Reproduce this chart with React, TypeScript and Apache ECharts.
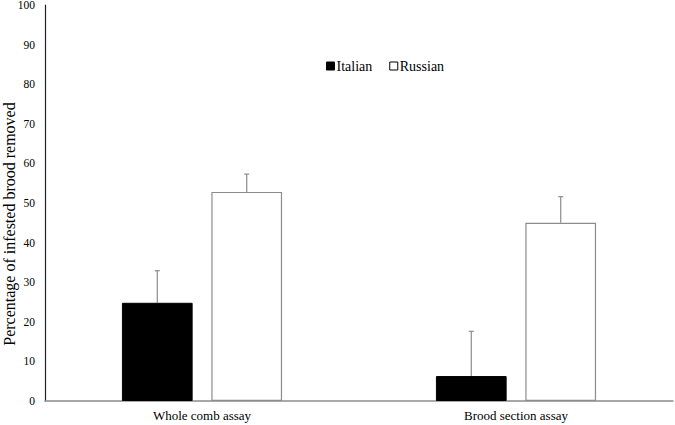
import React, { useEffect, useRef } from "react";
import * as echarts from "echarts";

const categories = ["Whole comb assay", "Brood section assay"];
const italianValues = [24.8, 6.3];
const italianErrTop = [32.9, 17.6];
const russianValues = [52.8, 45.0];
const russianErrTop = [57.3, 51.6];
const yAxisTitle = "Percentage of infested brood removed";

const CAT_GAP = 0.49;
const BAR_GAP = 0.265;
const FONT = "'Liberation Serif', 'Times New Roman', serif";

function errorSeries(name: string, idx: number, values: number[], tops: number[]) {
  const data = values.map((v, i) => [i, v, tops[i]]);
  return {
    type: "custom",
    name: name + " error",
    silent: true,
    z: 1,
    data,
    encode: { x: 0, y: [1, 2] },
    renderItem: (params: any, api: any) => {
      const c = api.value(0);
      const base = api.coord([c, api.value(1)]);
      const top = api.coord([c, api.value(2)]);
      const band = api.size([1, 0])[0];
      const usable = band * (1 - CAT_GAP);
      const bw = usable / (2 + BAR_GAP);
      const off = (bw + bw * BAR_GAP) / 2;
      const x = base[0] + (idx === 0 ? -off : off);
      const style = { stroke: "#8c8c8c", lineWidth: 1.2 };
      return {
        type: "group",
        children: [
          { type: "line", shape: { x1: x, y1: base[1], x2: x, y2: top[1] }, style },
          { type: "line", shape: { x1: x - 2.5, y1: top[1], x2: x + 2.5, y2: top[1] }, style },
        ],
      };
    },
  };
}

export default function App() {
  const ref = useRef<HTMLDivElement>(null);
  useEffect(() => {
    if (!ref.current) return;
    const chart = echarts.init(ref.current, null, { renderer: "svg" });
    chart.setOption({
      animation: false,
      backgroundColor: "#fff",
      textStyle: { fontFamily: FONT },
      grid: { left: 45, right: 2, top: 5, bottom: 24, containLabel: false, outerBoundsMode: "none" },
      graphic: [
        {
          type: "text",
          x: 9.5,
          y: 224,
          rotation: Math.PI / 2,
          style: {
            text: yAxisTitle,
            fontFamily: FONT,
            fontSize: 16,
            fill: "#000",
            align: "center",
            verticalAlign: "middle",
          },
        },
      ],
      legend: {
        left: 321,
        top: 54,
        icon: "rect",
        itemWidth: 8,
        itemHeight: 8,
        itemGap: 17,
        textStyle: { fontFamily: FONT, fontSize: 14, color: "#000", padding: [0, 0, 0, -3] },
        data: [
          { name: "Italian", itemStyle: { color: "#000", borderColor: "#000", borderWidth: 1 } },
          { name: "Russian", itemStyle: { color: "#fff", borderColor: "#000", borderWidth: 1 } },
        ],
      },
      xAxis: {
        type: "category",
        data: categories,
        axisLine: { lineStyle: { color: "#8c8c8c", width: 1.5 } },
        axisTick: { show: false },
        axisLabel: { color: "#000", fontFamily: FONT, fontSize: 13, margin: 8 },
      },
      yAxis: {
        type: "value",
        min: 0,
        max: 100,
        interval: 10,
        axisLine: { show: true, lineStyle: { color: "#222", width: 1.2 } },
        axisTick: { show: false },
        splitLine: { show: false },
        axisLabel: { color: "#000", fontFamily: FONT, fontSize: 11.5, margin: 10 },
      },
      series: [
        {
          name: "Italian",
          type: "bar",
          data: italianValues,
          barCategoryGap: CAT_GAP * 100 + "%",
          barGap: BAR_GAP * 100 + "%",
          itemStyle: { color: "#000", borderColor: "#000", borderWidth: 1 },
          z: 2,
        },
        {
          name: "Russian",
          type: "bar",
          data: russianValues,
          barCategoryGap: CAT_GAP * 100 + "%",
          barGap: BAR_GAP * 100 + "%",
          itemStyle: { color: "#fff", borderColor: "#8c8c8c", borderWidth: 1.2 },
          z: 2,
        },
        errorSeries("Italian", 0, italianValues, italianErrTop),
        errorSeries("Russian", 1, russianValues, russianErrTop),
      ],
    });
    return () => chart.dispose();
  }, []);
  return <div ref={ref} style={{ width: 675, height: 425, position: "absolute", left: 0, top: 0 }} />;
}
